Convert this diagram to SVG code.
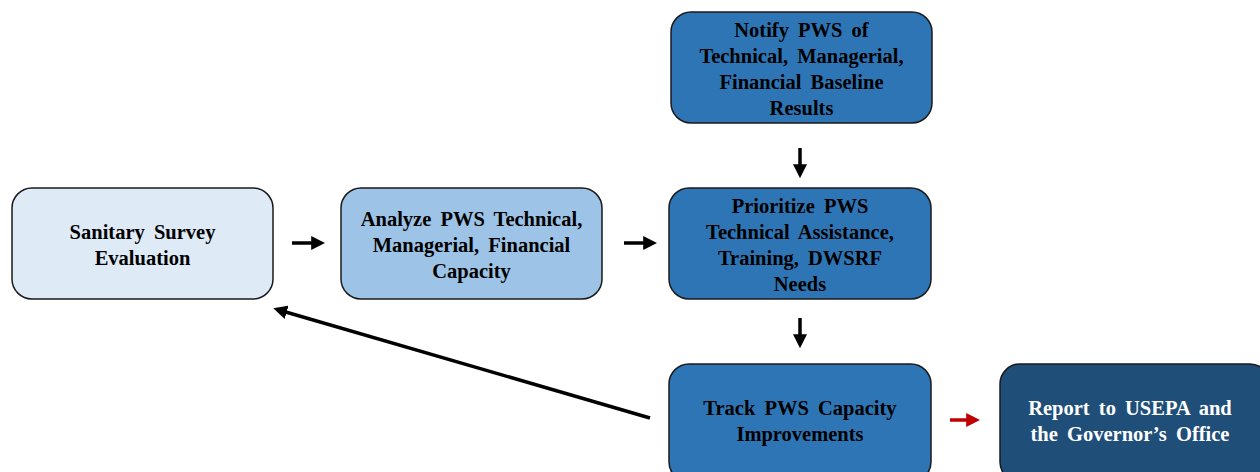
<svg xmlns="http://www.w3.org/2000/svg" width="1260" height="472" viewBox="0 0 1260 472">
<style>
.box{stroke:#1a1a1a;stroke-width:1.5}
.t{font-family:"Liberation Serif","Times New Roman",serif;font-weight:bold;font-size:20.5px;word-spacing:4px;text-anchor:middle;fill:#000}
.w{fill:#fff}
.c{stroke:#000;stroke-width:3.5;fill:none}
</style>
<defs>
<marker id="ah" viewBox="0 0 10 10" refX="2" refY="5" markerWidth="4" markerHeight="4" orient="auto" markerUnits="strokeWidth"><path d="M0,0 L10,5 L0,10 z" fill="#000"/></marker>
<marker id="ahr" viewBox="0 0 10 10" refX="2" refY="5" markerWidth="4" markerHeight="4" orient="auto" markerUnits="strokeWidth"><path d="M0,0 L10,5 L0,10 z" fill="#c00000"/></marker>
</defs>
<rect width="1260" height="472" fill="#fff"/>
<g id="connectors">
<line class="c" x1="292" y1="243" x2="314" y2="243" marker-end="url(#ah)"/>
<line class="c" x1="624" y1="243" x2="646" y2="243" marker-end="url(#ah)"/>
<line class="c" x1="800" y1="148" x2="800" y2="167" marker-end="url(#ah)"/>
<line class="c" x1="800" y1="318" x2="800" y2="337" marker-end="url(#ah)"/>
<line class="c" x1="950" y1="420" x2="969" y2="420" style="stroke:#c00000" marker-end="url(#ahr)"/>
<line class="c" x1="650" y1="418" x2="284" y2="311.5" marker-end="url(#ah)"/>
</g>
<g id="sanitary">
<rect class="box" x="12" y="188" width="261" height="111" rx="20" fill="#deebf7"/>
<text class="t" x="142.5" y="239">Sanitary Survey</text>
<text class="t" x="142.5" y="265">Evaluation</text>
</g>
<g id="analyze">
<rect class="box" x="341" y="188" width="261" height="111" rx="20" fill="#9dc3e6"/>
<text class="t" x="471.5" y="226">Analyze PWS Technical,</text>
<text class="t" x="471.5" y="252">Managerial, Financial</text>
<text class="t" x="471.5" y="278">Capacity</text>
</g>
<g id="notify">
<rect class="box" x="671" y="12" width="261" height="111" rx="20" fill="#2e75b6"/>
<text class="t" x="801.5" y="37">Notify PWS of</text>
<text class="t" x="801.5" y="63">Technical, Managerial,</text>
<text class="t" x="801.5" y="89">Financial Baseline</text>
<text class="t" x="801.5" y="115">Results</text>
</g>
<g id="prioritize">
<rect class="box" x="669" y="188" width="262" height="111" rx="20" fill="#2e75b6"/>
<text class="t" x="800" y="213">Prioritize PWS</text>
<text class="t" x="800" y="239">Technical Assistance,</text>
<text class="t" x="800" y="265">Training, DWSRF</text>
<text class="t" x="800" y="291">Needs</text>
</g>
<g id="track">
<rect class="box" x="669" y="364" width="262" height="118" rx="20" fill="#2e75b6"/>
<text class="t" x="800" y="415">Track PWS Capacity</text>
<text class="t" x="800" y="441">Improvements</text>
</g>
<g id="report">
<rect class="box" x="1000" y="364" width="270" height="118" rx="20" fill="#1f4e79"/>
<text class="t w" x="1130" y="415">Report to USEPA and</text>
<text class="t w" x="1130" y="441">the Governor’s Office</text>
</g>
</svg>
